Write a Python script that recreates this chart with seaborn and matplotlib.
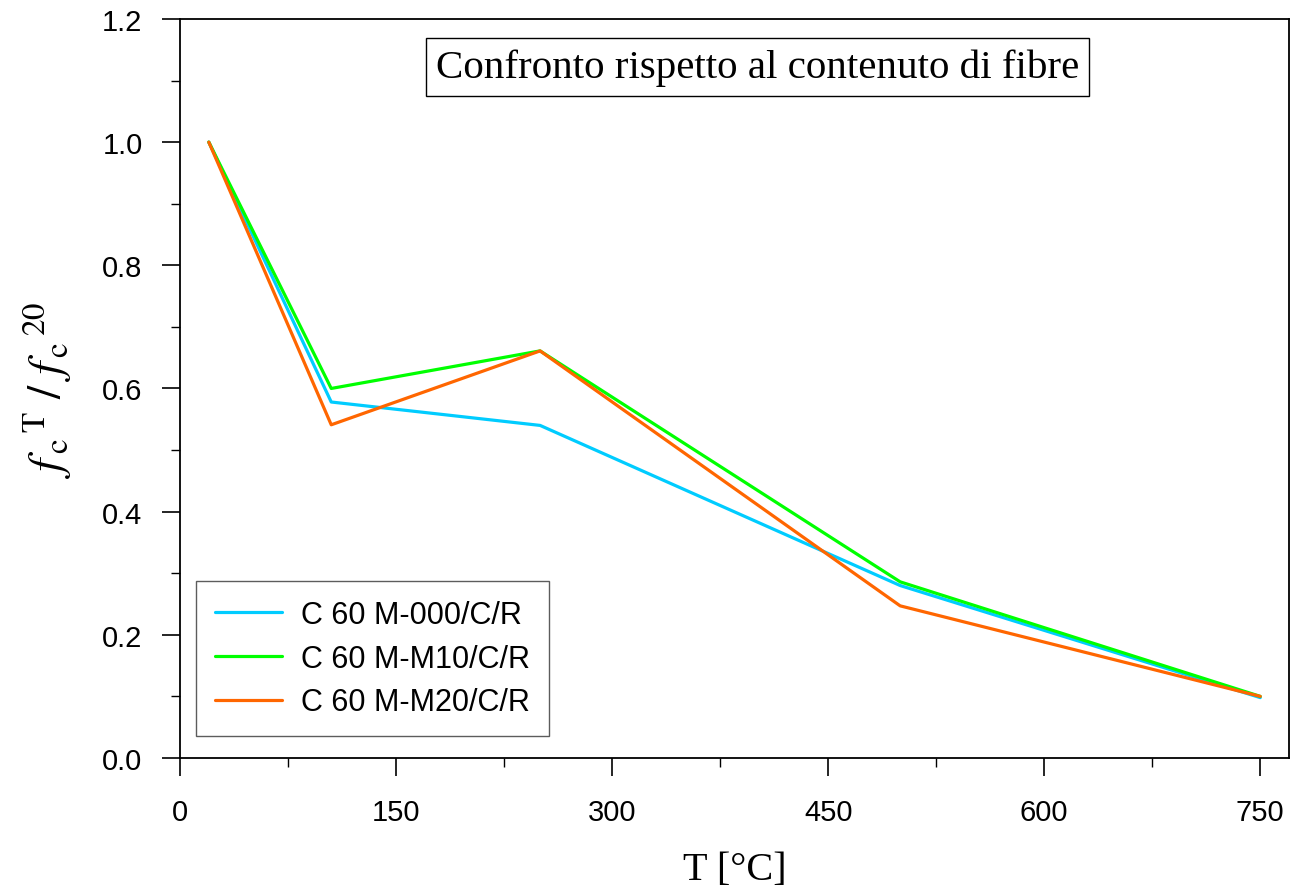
import matplotlib
matplotlib.use("Agg")
import matplotlib.pyplot as plt
import seaborn as sns
import pandas as pd
from matplotlib.ticker import MultipleLocator

temps = [20, 105, 250, 500, 750]
s000 = [1.0, 0.578, 0.540, 0.280, 0.098]
s10 = [1.0, 0.600, 0.661, 0.286, 0.100]
s20 = [1.0, 0.541, 0.661, 0.247, 0.100]
labels = ["C 60 M-000/C/R", "C 60 M-M10/C/R", "C 60 M-M20/C/R"]
colors = ["#00CCFF", "#00FF00", "#FF6600"]
title = "Confronto rispetto al contenuto di fibre"

df = pd.DataFrame({
    "T": temps * 3,
    "ratio": s000 + s10 + s20,
    "serie": [labels[0]] * 5 + [labels[1]] * 5 + [labels[2]] * 5,
})

sns.set_theme(style="white")
plt.rcParams["font.family"] = ["Liberation Sans", "DejaVu Sans"]
plt.rcParams["mathtext.fontset"] = "stix"
plt.rcParams["text.color"] = "black"

fig = plt.figure(figsize=(12.95, 8.95), dpi=100)
ax = fig.add_axes([0.139, 0.152, 0.8564, 0.8257])

sns.lineplot(data=df, x="T", y="ratio", hue="serie", palette=colors,
             hue_order=labels, linewidth=2.3, ax=ax, sort=False)

ax.set_xlim(0, 770)
ax.set_ylim(0, 1.2)
ax.xaxis.set_major_locator(MultipleLocator(150))
ax.xaxis.set_minor_locator(MultipleLocator(75))
ax.yaxis.set_major_locator(MultipleLocator(0.2))
ax.yaxis.set_minor_locator(MultipleLocator(0.1))
ax.yaxis.set_major_formatter(matplotlib.ticker.FormatStrFormatter("%.1f"))
ax.tick_params(which="major", direction="out", length=13, width=1.2,
               labelsize=21, color="black", left=True, bottom=True)
ax.tick_params(axis="x", which="major", pad=15.5)
ax.tick_params(axis="y", which="major", pad=14)
ax.tick_params(which="minor", direction="out", length=6.5, width=1.0,
               color="black", left=True, bottom=True)
for t in ax.get_xticklabels() + ax.get_yticklabels():
    t.set_color("black")

for sp in ax.spines.values():
    sp.set_color("black")
    sp.set_linewidth(1.3)

ax.set_xlabel("T [°C]", fontsize=29, family="Liberation Serif", color="black", labelpad=18)
ax.set_ylabel(r"$f_{\,\rm c}{}^{\,\rm T}\ /\ f_{\,\rm c}{}^{\,\it 20}$", fontsize=34,
              color="black", labelpad=20)

ax.text(0.5207, 0.935, title, transform=ax.transAxes, ha="center", va="center",
        fontsize=29.5, family="Liberation Serif", color="black",
        bbox=dict(boxstyle="square,pad=0.24", facecolor="white", edgecolor="black", linewidth=1.0))

leg = ax.legend(loc="upper left", bbox_to_anchor=(0.0144, 0.2395), borderaxespad=0,
                fontsize=22, frameon=True, fancybox=False, handlelength=2.2,
                handletextpad=0.62, labelspacing=0.45, borderpad=0.62, title=None)
leg.get_frame().set_edgecolor("#333333")
leg.get_frame().set_linewidth(1.0)
for line in leg.get_lines():
    line.set_linewidth(2.3)
for t in leg.get_texts():
    t.set_color("black")

fig.savefig("out.png", dpi=100)
